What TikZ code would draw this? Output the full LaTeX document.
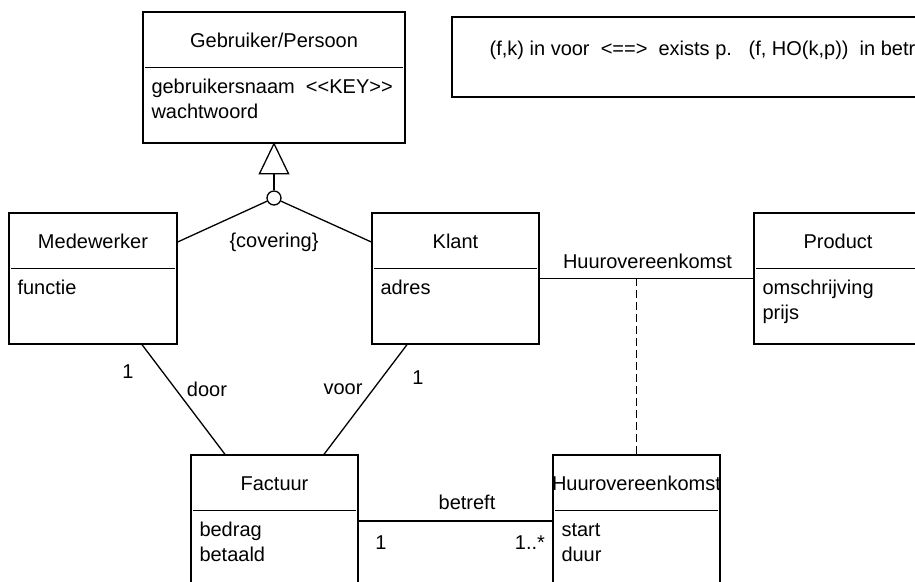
\documentclass[tikz,border=0pt]{standalone}
\usepackage{fontspec}
\setmainfont{Liberation Sans}

\tikzset{
    klasse/.style={draw, inner sep=0pt, minimum height=131pt},
    titel/.style={anchor=base, inner sep=0pt},
    attr/.style={anchor=north west, align=left, inner sep=0pt},
}

\begin{document}
\begin{tikzpicture}[x=1pt, y=-1pt, line width=1.3pt, font=\fontsize{20}{25}\selectfont]
    \useasboundingbox (0,0) rectangle (915,581);
    \clip (0,0) rectangle (915,581);

    % Classes: name / centre / width / title / attributes
    \foreach \naam/\cx/\cy/\w/\titel/\attr in {
        gebruiker/274/77.5/262/{Gebruiker/Persoon}/{gebruikersnaam\ \ <\kern0pt<KEY>\kern0pt>\\wachtwoord},
        medewerker/93/278.5/168/Medewerker/functie,
        klant/455.5/278.5/167/Klant/adres,
        product/838/278.5/168/Product/{omschrijving\\prijs},
        factuur/274.5/520.5/167/Factuur/{bedrag\\betaald},
        huur/636.5/520.5/167/Huurovereenkomst/{start\\duur}} {
        \node[klasse, minimum width=\w pt] (\naam) at (\cx,\cy) {};
        \node[titel] (\naam titel) at ([yshift=-36pt]\naam.north) {\titel};
        \draw ([xshift=3pt,yshift=-56pt]\naam.north west) -- ([xshift=-3pt,yshift=-56pt]\naam.north east);
        \node[attr] (\naam attr) at ([xshift=8.5pt,yshift=-63.5pt]\naam.north west) {\strut\attr};
    }

    % Constraint
    \node[draw, inner sep=0pt, minimum width=510pt, minimum height=80pt] (regel) at (707,57) {};
    \node[anchor=base west, inner sep=0pt] (regeltekst) at (489,55)
        {(f,k) in voor\ \ <==>\ \ exists p.\ \ \ (f, HO(k,p))\ \ in betreft};

    % Generalisation
    \coordinate (driehoekbasis) at ([yshift=-30pt]gebruiker.south);
    \draw (gebruiker.south) -- ([xshift=-14.5pt]driehoekbasis) -- ([xshift=14.5pt]driehoekbasis) -- cycle;
    \node[draw, circle, minimum size=14pt, inner sep=0pt] (cirkel) at (274,198) {};
    \draw (driehoekbasis) -- (cirkel);
    \draw (cirkel) -- ([yshift=36.5pt]medewerker.east);
    \draw (cirkel) -- ([yshift=36.5pt]klant.west);
    \node (covering) at (274,242) {\{covering\}};

    % door / voor
    \draw ([xshift=49pt]medewerker.south) -- ([xshift=-49.5pt]factuur.north);
    \draw ([xshift=-48.5pt]klant.south) -- ([xshift=49.5pt]factuur.north);
    \node (door) at (207,389) {door};
    \node (voor) at (343,389) {voor};
    \node (doorkeer) at (128,372) {1};
    \node (voorkeer) at (418,378) {1};

    % Huurovereenkomst
    \coordinate (huurlijn) at (huur.north |- klant.east);
    \draw (klant.east) -- (product.west);
    \draw[dash pattern=on 8pt off 4pt] (huur.north) -- (huurlijn);
    \node (huurlabel) at (647.5,261) {Huurovereenkomst};

    % betreft
    \draw (factuur.east |- 0,521) -- (huur.west |- 0,521);
    \node (betreft) at (467,502) {betreft};
    \node (betreftfactuur) at (381,543) {1};
    \node (betrefthuur) at (530,543) {1..*};
\end{tikzpicture}
\end{document}
